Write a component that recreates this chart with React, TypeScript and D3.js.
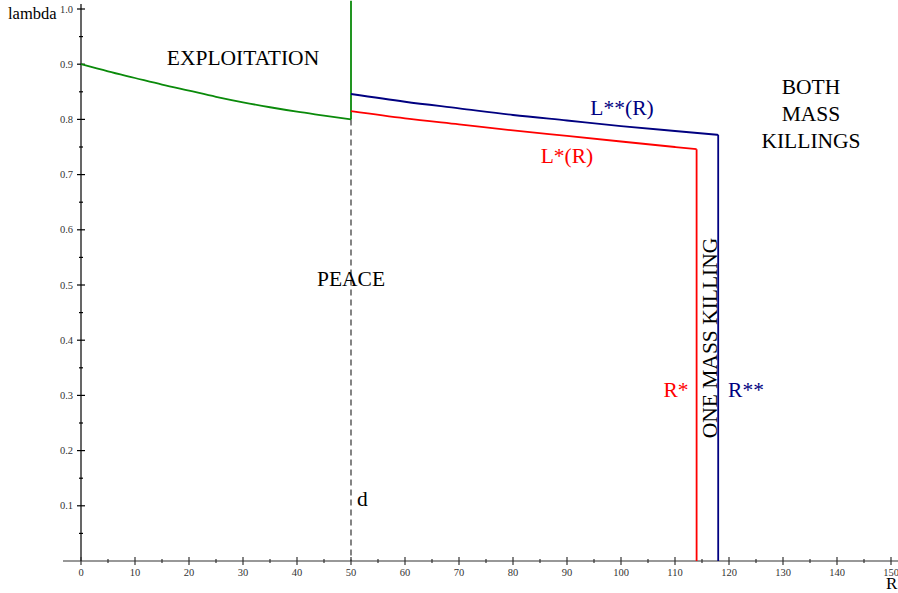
import * as d3 from 'd3';

// exploitation boundary (green), R from 0 to d = 50
const greenR = [0, 5, 10, 15, 20, 25, 30, 35, 40, 45, 50];
const greenL = [0.9, 0.887, 0.875, 0.863, 0.852, 0.841, 0.831, 0.822, 0.814, 0.807, 0.8];
// L**(R), blue
const blueR = [50, 60, 70, 80, 90, 100, 110, 118];
const blueL = [0.846, 0.832, 0.82, 0.808, 0.798, 0.788, 0.779, 0.772];
// L*(R), red
const redR = [50, 60, 70, 80, 90, 100, 110, 114];
const redL = [0.815, 0.802, 0.791, 0.78, 0.77, 0.76, 0.75, 0.746];

const dValue = 50;
const rStar = 114;
const rStarStar = 118;
const topLambda = 1.015;

const xTickValues = [0, 10, 20, 30, 40, 50, 60, 70, 80, 90, 100, 110, 120, 130, 140, 150];
const xTickLabels = ['0', '10', '20', '30', '40', '50', '60', '70', '80', '90', '100', '110', '120', '130', '140', '150'];
const yTickValues = [0.1, 0.2, 0.3, 0.4, 0.5, 0.6, 0.7, 0.8, 0.9, 1.0];
const yTickLabels = ['0.1', '0.2', '0.3', '0.4', '0.5', '0.6', '0.7', '0.8', '0.9', '1.0'];

const W = 898;
const H = 593;
const serif = '"Liberation Serif", "Times New Roman", serif';
const GREEN = '#0a8a0a';
const RED = '#ff0000';
const BLUE = '#000080';
const FS = 21.5;

export default function App() {
  const x = d3.scaleLinear().domain([0, 150]).range([81, 891]);
  const y = d3.scaleLinear().domain([0, 1]).range([561, 9]);

  const line = d3.line<[number, number]>().x((d) => x(d[0])).y((d) => y(d[1])).curve(d3.curveMonotoneX);
  const green = line(greenR.map((r, i) => [r, greenL[i]]));
  const blue = line(blueR.map((r, i) => [r, blueL[i]]));
  const red = line(redR.map((r, i) => [r, redL[i]]));

  const minorX = d3.range(5, 150, 10);
  const minorY = d3.range(0.05, 1.0, 0.1);

  const txt = { fontFamily: serif, fill: '#000' } as const;

  return (
    <svg width={W} height={H} viewBox={`0 0 ${W} ${H}`} style={{ position: 'absolute', left: 0, top: 0, background: '#fff' }}>
      {/* axes */}
      <line x1={63} x2={898} y1={y(0)} y2={y(0)} stroke="#333" strokeWidth={1.2} />
      <line x1={x(0)} x2={x(0)} y1={y(0)} y2={4} stroke="#000" strokeWidth={1.2} />
      {xTickValues.map((v, i) => (
        <g key={'xt' + v}>
          <line x1={x(v)} x2={x(v)} y1={y(0) - 4} y2={y(0) + 4} stroke="#333" strokeWidth={1.2} />
          <text x={x(v)} y={576} textAnchor="middle" fontSize={10.5} {...txt} fill="#333">{xTickLabels[i]}</text>
        </g>
      ))}
      {minorX.map((v) => (
        <line key={'xm' + v} x1={x(v)} x2={x(v)} y1={y(0) - 2} y2={y(0) + 2} stroke="#333" strokeWidth={1.2} />
      ))}
      {yTickValues.map((v, i) => (
        <g key={'yt' + v}>
          <line x1={x(0) - 4} x2={x(0) + 4} y1={y(v)} y2={y(v)} stroke="#000" strokeWidth={1.2} />
          <text x={73} y={y(v)} dy="0.35em" textAnchor="end" fontSize={10.5} {...txt} fill="#333">{yTickLabels[i]}</text>
        </g>
      ))}
      {minorY.map((v) => (
        <line key={'ym' + v} x1={x(0) - 2} x2={x(0) + 2} y1={y(v)} y2={y(v)} stroke="#000" strokeWidth={1.2} />
      ))}
      <text x={8} y={19} fontSize={16.5} {...txt}>lambda</text>
      <text x={886} y={589} fontSize={17} {...txt}>R</text>

      {/* d line */}
      <line x1={x(dValue)} x2={x(dValue)} y1={y(greenL[greenL.length - 1])} y2={y(0)} stroke="#333" strokeWidth={1.2} strokeDasharray="6,4" />

      {/* curves */}
      <path d={green ?? ''} fill="none" stroke={GREEN} strokeWidth={1.8} />
      <line x1={x(dValue)} x2={x(dValue)} y1={y(greenL[greenL.length - 1])} y2={y(topLambda)} stroke={GREEN} strokeWidth={1.8} />
      <path d={blue ?? ''} fill="none" stroke={BLUE} strokeWidth={1.8} />
      <line x1={x(rStarStar)} x2={x(rStarStar)} y1={y(blueL[blueL.length - 1])} y2={y(0)} stroke={BLUE} strokeWidth={1.8} />
      <path d={red ?? ''} fill="none" stroke={RED} strokeWidth={1.8} />
      <line x1={x(rStar)} x2={x(rStar)} y1={y(redL[redL.length - 1])} y2={y(0)} stroke={RED} strokeWidth={1.8} />

      {/* region labels */}
      <text x={243} y={65} textAnchor="middle" fontSize={FS} {...txt}>EXPLOITATION</text>
      <text x={351} y={286} textAnchor="middle" fontSize={FS} {...txt}>PEACE</text>
      <text x={811} y={94} textAnchor="middle" fontSize={FS} {...txt}>BOTH</text>
      <text x={811} y={121} textAnchor="middle" fontSize={FS} {...txt}>MASS</text>
      <text x={811} y={148} textAnchor="middle" fontSize={FS} {...txt}>KILLINGS</text>
      <text transform="translate(717,338) rotate(-90)" textAnchor="middle" fontSize={FS} {...txt}>ONE MASS KILLING</text>
      <text x={357} y={506} fontSize={FS} {...txt}>d</text>
      <text x={622} y={115} textAnchor="middle" fontSize={FS} fontFamily={serif} fill={BLUE}>L**(R)</text>
      <text x={567} y={163} textAnchor="middle" fontSize={FS} fontFamily={serif} fill={RED}>L*(R)</text>
      <text x={676} y={397} textAnchor="middle" fontSize={FS} fontFamily={serif} fill={RED}>R*</text>
      <text x={746} y={397} textAnchor="middle" fontSize={FS} fontFamily={serif} fill={BLUE}>R**</text>
    </svg>
  );
}
